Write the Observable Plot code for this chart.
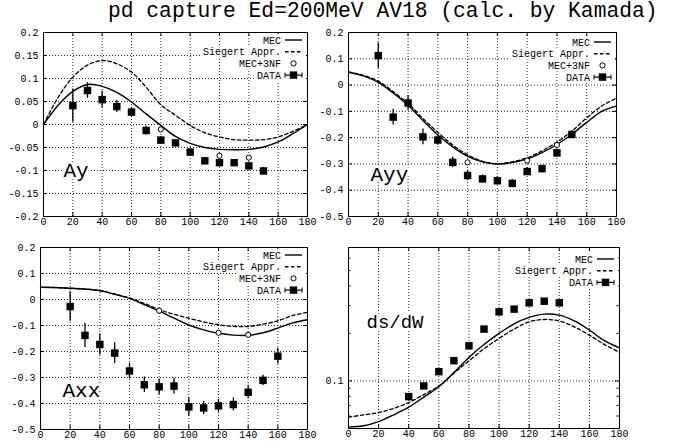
<!DOCTYPE html>
<html>
<head>
<meta charset="utf-8">
<script src="https://cdn.jsdelivr.net/npm/d3@7"></script>
<script src="https://cdn.jsdelivr.net/npm/@observablehq/plot@0.6"></script>
<style>
  body { margin: 0; background: #fff; }
  #wrap { position: relative; width: 675px; height: 442px; overflow: hidden; background: #fff;
          font-family: "Liberation Mono", "DejaVu Sans Mono", monospace; color: #000; }
  #title { position: absolute; left: 108px; top: -1px; font-size: 21.3px; white-space: nowrap; }
  .panel { position: absolute; }
</style>
</head>
<body>
<div id="wrap">
  <div id="title">pd capture Ed=200MeV AV18 (calc. by Kamada)</div>
</div>
<script>
// ---------- data ----------
const angles = [0,10,20,30,40,50,60,70,80,90,100,110,120,130,140,150,160,170,180];
const xTicks = [0,20,40,60,80,100,120,140,160,180];
const xTickLabels = ["0","20","40","60","80","100","120","140","160","180"];
const xGrid = [20,40,60,80,100,120,140,160];
const legendNames = ["MEC","Siegert Appr.","MEC+3NF","DATA"];
const legendNamesDs = ["MEC","Siegert Appr.","DATA"];
const nfAngles = [80,120,140];

// Ay
const ayMEC  = [0,0.042,0.072,0.087,0.083,0.070,0.049,0.023,-0.002,-0.026,-0.041,-0.050,-0.054,-0.055,-0.054,-0.049,-0.038,-0.020,0];
const aySieg = [0,0.059,0.103,0.129,0.139,0.132,0.114,0.081,0.043,0.020,-0.002,-0.018,-0.027,-0.033,-0.034,-0.033,-0.027,-0.015,0];
const ayAngles = [20,30,40,50,60,70,80,90,100,110,120,130,140,150];
const ayVal = [0.041,0.074,0.054,0.039,0.027,-0.013,-0.034,-0.040,-0.060,-0.079,-0.083,-0.083,-0.090,-0.101];
const ayErr = [0.036,0.017,0.018,0.013,0.010,0.010,0.008,0.007,0.007,0.006,0.006,0.005,0.006,0.008];
const ay3nf = [-0.0105,-0.068,-0.072];
const ayTicks = [-0.2,-0.15,-0.1,-0.05,0,0.05,0.1,0.15,0.2];
const ayTickLabels = ["-0.2","-0.15","-0.1","-0.05","0","0.05","0.1","0.15","0.2"];

// Ayy
const ayyMEC  = [0.049,0.035,0.010,-0.030,-0.077,-0.135,-0.190,-0.235,-0.271,-0.292,-0.300,-0.295,-0.281,-0.257,-0.226,-0.187,-0.142,-0.100,-0.080];
const ayySieg = [0.050,0.037,0.015,-0.025,-0.070,-0.127,-0.180,-0.228,-0.265,-0.290,-0.299,-0.292,-0.277,-0.250,-0.217,-0.175,-0.125,-0.080,-0.050];
const ayyAngles = [20,30,40,50,60,70,80,90,100,110,120,130,140,150];
const ayyVal = [0.112,-0.122,-0.068,-0.197,-0.209,-0.294,-0.344,-0.357,-0.364,-0.374,-0.329,-0.318,-0.258,-0.188];
const ayyErr = [0.048,0.030,0.028,0.030,0.020,0.020,0.020,0.015,0.015,0.015,0.015,0.013,0.015,0.013];
const ayy3nf = [-0.294,-0.287,-0.228];
const tTicks = [-0.5,-0.4,-0.3,-0.2,-0.1,0,0.1,0.2];
const tTickLabels = ["-0.5","-0.4","-0.3","-0.2","-0.1","0","0.1","0.2"];

// Axx
const axxMEC  = [0.047,0.046,0.043,0.040,0.034,0.020,0.004,-0.020,-0.045,-0.072,-0.098,-0.117,-0.130,-0.137,-0.138,-0.128,-0.110,-0.090,-0.078];
const axxSieg = [0.047,0.046,0.043,0.040,0.034,0.021,0.006,-0.015,-0.039,-0.057,-0.072,-0.086,-0.097,-0.103,-0.104,-0.095,-0.082,-0.062,-0.049];
const axxAngles = [20,30,40,50,60,70,80,90,100,110,120,130,140,150,160];
const axxVal = [-0.027,-0.138,-0.173,-0.206,-0.275,-0.328,-0.336,-0.333,-0.413,-0.417,-0.409,-0.404,-0.357,-0.311,-0.218];
const axxErr = [0.057,0.047,0.040,0.040,0.030,0.030,0.030,0.030,0.035,0.025,0.025,0.025,0.025,0.020,0.030];
const axx3nf = [-0.043,-0.128,-0.136];

// ds/dW
const dsMEC  = [0.051,0.052,0.0553,0.061,0.0682,0.079,0.092,0.113,0.141,0.170,0.200,0.230,0.2525,0.265,0.261,0.240,0.210,0.180,0.162];
const dsSieg = [0.059,0.061,0.063,0.067,0.073,0.082,0.093,0.112,0.134,0.160,0.186,0.213,0.237,0.245,0.240,0.220,0.195,0.170,0.152];
const dsAngles = [40,50,60,70,80,90,100,110,120,130,140];
const dsVal = [0.0796,0.093,0.1145,0.1344,0.167,0.213,0.274,0.285,0.3126,0.320,0.3126];
const dsTicks = [0.1];
const dsTickLabels = ["0.1"];
const dsMinor = [0.06,0.07,0.08,0.09,0.2,0.3,0.4,0.5,0.6,0.7];

// ---------- drawing ----------
const FONT = "Liberation Mono, DejaVu Sans Mono, monospace";
const wrap = document.getElementById("wrap");

function makePanel(c) {
  const fw = c.width - c.ml - c.mr, fh = c.height - c.mt - c.mb;
  const curves = angles.map((a, i) => ({a, mec: c.mec[i], sieg: c.sieg[i]}));
  const pts = c.dataAngles.map((a, i) => ({a, v: c.val[i], e: c.err ? c.err[i] : 0}));
  const nf = c.nf ? nfAngles.map((a, i) => ({a, v: c.nf[i]})) : [];
  const dotted = {stroke: "#000", strokeOpacity: 0.85, strokeWidth: 1, strokeDasharray: "1,2"};
  const marks = [
    Plot.gridX(xGrid, dotted),
    Plot.gridY(c.yGrid, dotted),
    Plot.tickX(xTicks, {x: d => d, insetTop: fh - 4, stroke: "#000"}),
    Plot.tickX(xTicks, {x: d => d, insetBottom: fh - 4, stroke: "#000"}),
    Plot.tickY(c.yTicks, {y: d => d, insetRight: fw - 4, stroke: "#000"}),
    Plot.tickY(c.yTicks, {y: d => d, insetLeft: fw - 4, stroke: "#000"}),
    c.minor ? Plot.tickY(c.minor, {y: d => d, insetRight: fw - 2.5, stroke: "#000"}) : null,
    c.minor ? Plot.tickY(c.minor, {y: d => d, insetLeft: fw - 2.5, stroke: "#000"}) : null,
    Plot.line(curves, {x: "a", y: "sieg", curve: "catmull-rom", stroke: "#000", strokeWidth: 1.3, strokeDasharray: "3.5,2.5"}),
    Plot.line(curves, {x: "a", y: "mec", curve: "catmull-rom", stroke: "#000", strokeWidth: 1.4}),
    c.err ? Plot.ruleX(pts, {x: "a", y1: d => d.v - d.e, y2: d => d.v + d.e, stroke: "#000", strokeWidth: 1.3}) : null,
    Plot.dot(pts, {x: "a", y: "v", symbol: "square", fill: "#000", r: 4.2}),
    Plot.dot(nf, {x: "a", y: "v", symbol: "circle", fill: "#fff", stroke: "#000", strokeWidth: 1, r: 2.6}),
    Plot.text([c.label], {frameAnchor: "top-left", dx: c.lx, dy: c.ly, text: d => d, textAnchor: "start",
      lineAnchor: "middle", fontSize: c.lfs, fill: "#000", stroke: "#fff", strokeWidth: 5}),
    Plot.frame({stroke: "#000", strokeWidth: 1}),
    Plot.axisX({ticks: xTicks, tickFormat: d => xTickLabels[xTicks.indexOf(d)], tickSize: 0, tickPadding: 1,
      label: null, fontSize: 10}),
    Plot.axisY({ticks: c.yTicks, tickFormat: d => c.yLabels[c.yTicks.indexOf(d)], tickSize: 0, tickPadding: 5,
      label: null, fontSize: 10})
  ].filter(Boolean);

  const svg = Plot.plot({
    width: c.width, height: c.height,
    marginLeft: c.ml, marginRight: c.mr, marginTop: c.mt, marginBottom: c.mb,
    style: {fontFamily: FONT, fontSize: "10px", background: "transparent", overflow: "visible", color: "#000"},
    x: {domain: [0, 180], label: null},
    y: {type: c.yType || "linear", domain: c.yDomain, label: null},
    marks
  });

  const div = document.createElement("div");
  div.className = "panel";
  div.style.left = c.left + "px";
  div.style.top = c.top + "px";
  div.appendChild(svg);
  wrap.appendChild(div);

  // legend (key) in the top-right corner of the frame
  const g = d3.select(svg).append("g").attr("font-family", FONT).attr("font-size", 10).attr("fill", "#000");
  const fx1 = c.width - c.mr, fy0 = c.mt;
  const rowH = 11.7, textRight = fx1 - 26, s0 = fx1 - 22, s1 = fx1 - 5, sc = (s0 + s1) / 2;
  c.legend.forEach((name, i) => {
    const y = fy0 + c.legDy + i * rowH;
    const w = name.length * 6;
    g.append("rect").attr("x", textRight - w - 2).attr("y", y - rowH / 2)
      .attr("width", fx1 - 1 - (textRight - w - 2)).attr("height", rowH).attr("fill", "#fff");
  });
  c.legend.forEach((name, i) => {
    const y = fy0 + c.legDy + i * rowH;
    g.append("text").attr("x", textRight).attr("y", y).attr("dy", "0.35em").attr("text-anchor", "end").text(name);
    const kind = c.kinds[i];
    if (kind === "line" || kind === "dash" || kind === "data") {
      const l = g.append("line").attr("x1", s0).attr("x2", s1).attr("y1", y).attr("y2", y)
        .attr("stroke", "#000").attr("stroke-width", kind === "data" ? 1.2 : 1.4);
      if (kind === "dash") l.attr("stroke-dasharray", "3.5,2.5");
    }
    if (kind === "data") {
      [s0, s1].forEach(x => g.append("line").attr("x1", x).attr("x2", x).attr("y1", y - 2.5).attr("y2", y + 2.5)
        .attr("stroke", "#000").attr("stroke-width", 1));
      g.append("rect").attr("x", sc - 3.7).attr("y", y - 3.7).attr("width", 7.4).attr("height", 7.4).attr("fill", "#000");
    }
    if (kind === "circle") {
      g.append("circle").attr("cx", sc).attr("cy", y).attr("r", 2.6).attr("fill", "#fff").attr("stroke", "#000");
    }
  });
}

const kinds4 = ["line", "dash", "circle", "data"];

makePanel({left: 0, top: 26, width: 337, height: 210, ml: 43, mr: 30, mt: 6, mb: 20,
  yDomain: [-0.2, 0.2], yTicks: ayTicks, yLabels: ayTickLabels, yGrid: ayTicks.slice(1, -1),
  mec: ayMEC, sieg: aySieg, dataAngles: ayAngles, val: ayVal, err: ayErr, nf: ay3nf,
  label: "Ay", lx: 20, ly: 138, lfs: 21, legend: legendNames, kinds: kinds4, legDy: 8});

makePanel({left: 318, top: 26, width: 357, height: 210, ml: 30, mr: 59, mt: 6, mb: 20,
  yDomain: [-0.5, 0.2], yTicks: tTicks, yLabels: tTickLabels, yGrid: tTicks.slice(1, -1),
  mec: ayyMEC, sieg: ayySieg, dataAngles: ayyAngles, val: ayyVal, err: ayyErr, nf: ayy3nf,
  label: "Ayy", lx: 22, ly: 142, lfs: 21, legend: legendNames, kinds: kinds4, legDy: 10});

makePanel({left: 0, top: 236, width: 337, height: 206, ml: 40, mr: 30, mt: 11, mb: 13,
  yDomain: [-0.5, 0.2], yTicks: tTicks, yLabels: tTickLabels, yGrid: tTicks.slice(1, -1),
  mec: axxMEC, sieg: axxSieg, dataAngles: axxAngles, val: axxVal, err: axxErr, nf: axx3nf,
  label: "Axx", lx: 22, ly: 142.5, lfs: 21, legend: legendNames, kinds: kinds4, legDy: 8});

makePanel({left: 318, top: 236, width: 357, height: 206, ml: 30, mr: 56, mt: 11, mb: 14,
  yType: "log", yDomain: [0.05, 0.7], yTicks: dsTicks, yLabels: dsTickLabels, yGrid: dsTicks, minor: dsMinor,
  mec: dsMEC, sieg: dsSieg, dataAngles: dsAngles, val: dsVal, err: null, nf: null,
  label: "ds/dW", lx: 18, ly: 74, lfs: 19, legend: legendNamesDs, kinds: ["line", "dash", "data"], legDy: 12});
</script>
</body>
</html>
